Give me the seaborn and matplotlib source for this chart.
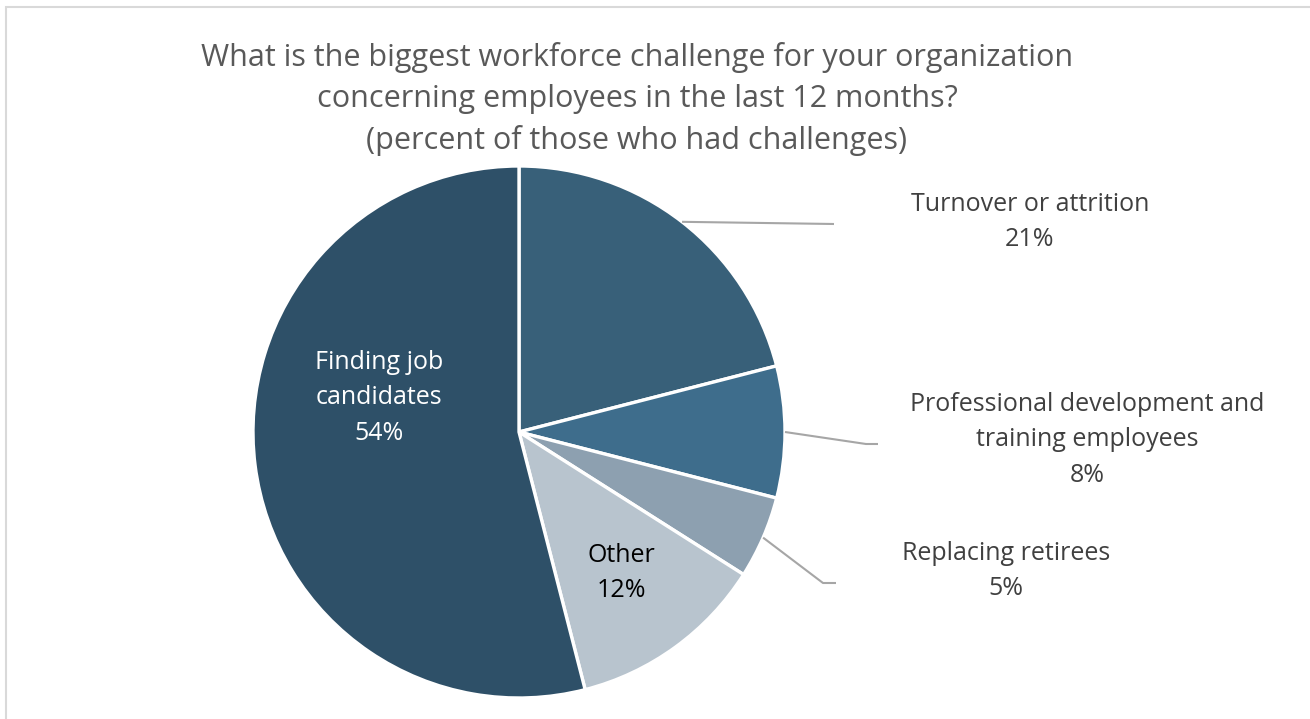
import numpy as np
import matplotlib
matplotlib.use("Agg")
import matplotlib.pyplot as plt
import seaborn as sns

sns.set_theme(style="white")
plt.rcParams["font.family"] = ["Open Sans", "DejaVu Sans"]

# Survey responses, clockwise from 12 o'clock
categories = ["Turnover or attrition", "Professional development and\ntraining employees",
              "Replacing retirees", "Other", "Finding job\ncandidates"]
percents = [21, 8, 5, 12, 54]
colors = ["#386079", "#3e6d8c", "#8da0b0", "#b8c4ce", "#2e5068"]

title = ("What is the biggest workforce challenge for your organization\n"
         "concerning employees in the last 12 months?\n"
         "(percent of those who had challenges)")

W, H = 1310, 719
fig = plt.figure(figsize=(W / 100, H / 100), dpi=100)
fig.patch.set_facecolor("white")

# chart frame (light grey border)
frame = plt.Rectangle((6 / W, -0.05), 1.2, (H - 7) / H + 0.05, transform=fig.transFigure,
                      fill=False, edgecolor="#d9d9d9", linewidth=1.5)
fig.add_artist(frame)

cx, cy, R = 519, 432, 266
ax = fig.add_axes([(cx - R) / W, (H - cy - R) / H, 2 * R / W, 2 * R / H])
wedges, _ = ax.pie(percents, colors=colors, startangle=90, counterclock=False,
                   radius=1.0, wedgeprops=dict(edgecolor="white", linewidth=2.4))
ax.set_xlim(-1, 1)
ax.set_ylim(-1, 1)
ax.axis("off")


def to_data(px, py):
    return (px - cx) / R, (cy - py) / R


def mid_angle(w):
    return np.deg2rad((w.theta1 + w.theta2) / 2)


fs = 18
ls = 1.55
label_color = "#404040"

# labels inside the slices
inside = {4: (379, 398, "white"), 3: (621, 573, "black")}
for i, (px, py, c) in inside.items():
    x, y = to_data(px, py)
    ax.text(x, y, f"{categories[i]}\n{percents[i]}%", ha="center", va="center",
            fontsize=fs, color=c, linespacing=ls)

# labels outside with leader lines
outside = {
    0: dict(text=(1030, 222), elbow=(834, 224), end=(834, 224)),
    1: dict(text=(1087, 440), elbow=(866, 444), end=(878, 444)),
    2: dict(text=(1006, 571), elbow=(823, 583), end=(836, 583)),
}
for i, spec in outside.items():
    a = mid_angle(wedges[i])
    x0, y0 = np.cos(a) * 1.0, np.sin(a) * 1.0
    x1, y1 = to_data(*spec["elbow"])
    x2, y2 = to_data(*spec["end"])
    ax.plot([x0, x1, x2], [y0, y1, y2], color="#a6a6a6", linewidth=1.5,
            clip_on=False, solid_capstyle="butt")
    tx, ty = to_data(*spec["text"])
    ax.text(tx, ty, f"{categories[i]}\n{percents[i]}%", ha="center", va="center",
            fontsize=fs, color=label_color, linespacing=ls, clip_on=False)

fig.text(637 / W, 1 - 99 / H, title, ha="center", va="center", fontsize=22,
         color="#595959", linespacing=1.46)

fig.savefig("out.png", dpi=100, facecolor="white")
